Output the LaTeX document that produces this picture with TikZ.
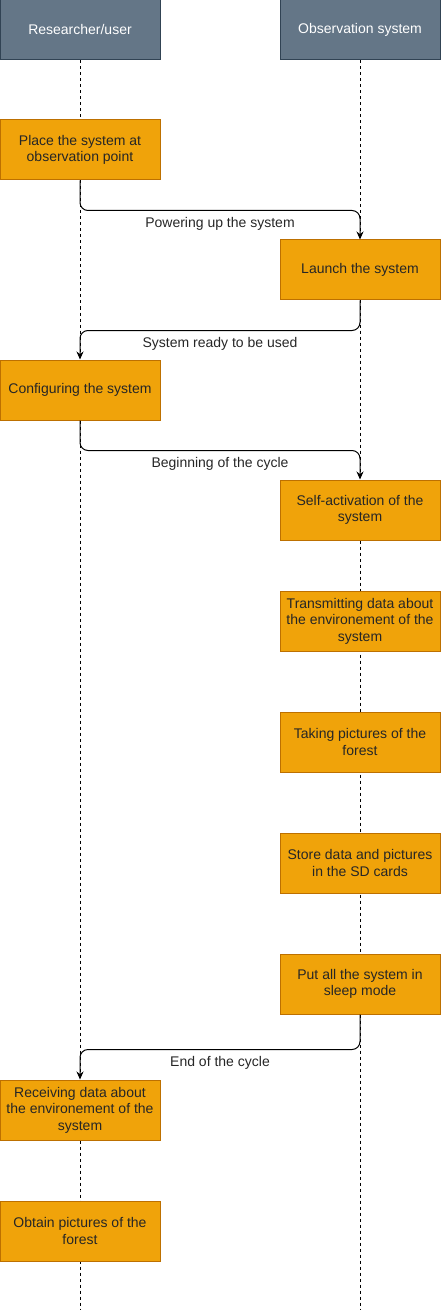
\documentclass[tikz,border=0pt]{standalone}
\usepackage{fontspec}
\setmainfont{Liberation Sans}
\usetikzlibrary{positioning, backgrounds, arrows.meta}
\definecolor{headfill}{HTML}{647687}
\definecolor{headline}{HTML}{314354}
\definecolor{stepfill}{HTML}{F0A30A}
\definecolor{stepline}{HTML}{BD7000}
\tikzset{
	actor/.style={draw=headline, fill=headfill, line width=1pt, text=white, minimum width=160pt, minimum height=60pt, inner sep=2pt, font=\fontsize{14}{16.5}\selectfont},
	action/.style={draw=stepline, fill=stepfill, line width=1pt, text=black!85, minimum width=160pt, minimum height=60pt, text width=154pt, align=flush center, inner sep=2pt, font=\fontsize{14}{16.5}\selectfont},
	lifeline/.style={line width=1pt, dash pattern=on 3pt off 3pt},
	msg/.style={line width=1pt, rounded corners=8pt, -{Stealth[length=8pt, width=7pt]}},
	msglabel/.style={below, yshift=-3pt, text=black!85, font=\fontsize{14}{16.5}\selectfont},
}
\begin{document}
\begin{tikzpicture}[x=1pt, y=1pt]
	\useasboundingbox (0,0) rectangle (442,-1313);
	% actors
	\node (user) [actor] at (80,-30) {Researcher/user};
	\node (sys) [actor] at (360,-30) {Observation system};
	\coordinate (userend) at (80,-1310);
	\coordinate (sysend) at (360,-1310);
	
	% user side
	\node (place) [action] at (80,-150) {Place the system at observation point};
	\node (config) [action] at (80,-390) {Configuring the system};
	\node (receive) [action] at (80,-1110) {Receiving data about the environement of the system};
	\node (obtain) [action, below=60pt of receive] {Obtain pictures of the forest};
	
	% system side
	\node (launch) [action] at (360,-270) {Launch the system};
	\node (activate) [action] at (360,-510) {Self-activation of the system};
	\node (transmit) [action, below=50pt of activate] {Transmitting data about the environement of the system};
	\node (pictures) [action, below=60pt of transmit] {Taking pictures of the forest};
	\node (store) [action, below=60pt of pictures] {Store data and pictures in the SD cards};
	\node (sleep) [action, below=60pt of store] {Put all the system in sleep mode};
	
	\begin{scope}[on background layer]
		\draw[lifeline] (user.south) -- (userend);
		\draw[lifeline] (sys.south) -- (sysend);
	\end{scope}
	
	% messages
	\draw[msg] (place.south) -- ++(0,-30) -| node[msglabel, pos=0.25] {Powering up the system} (launch.north);
	\draw[msg] (launch.south) -- ++(0,-30) -| node[msglabel, pos=0.25] {System ready to be used} (config.north);
	\draw[msg] (config.south) -- ++(0,-30) -| node[msglabel, pos=0.25] {Beginning of the cycle} (activate.north);
	\draw[msg] (sleep.south) -- ++(0,-35) -| node[msglabel, pos=0.25] {End of the cycle} (receive.north);
\end{tikzpicture}
\end{document}
